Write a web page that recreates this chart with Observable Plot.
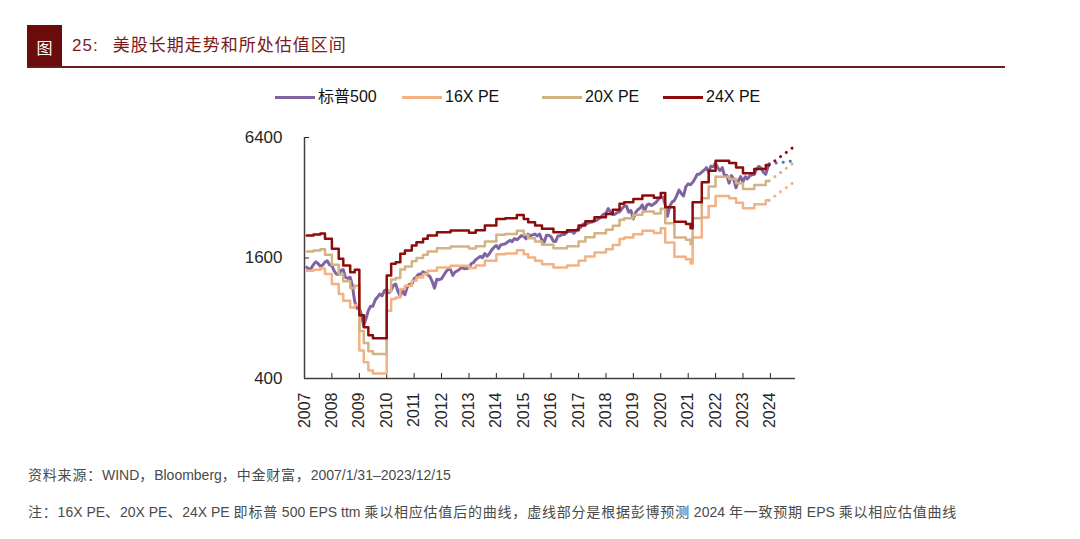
<!DOCTYPE html>
<html>
<head>
<meta charset="utf-8">
<script src="https://cdn.jsdelivr.net/npm/d3@7"></script>
<script src="https://cdn.jsdelivr.net/npm/@observablehq/plot@0.6"></script>
<style>
  body { margin: 0; background: #fff; }
  #page { position: relative; width: 1080px; height: 539px; overflow: hidden;
          font-family: "Liberation Sans", "Noto Sans CJK SC", sans-serif; }
  .abs { position: absolute; white-space: nowrap; }
  #badge { left: 27px; top: 25px; width: 35px; height: 43px; background: #6b0b0b; color: #fff;
           font-size: 16px; display: flex; align-items: center; justify-content: center;
           font-family: "Noto Sans CJK SC", sans-serif; }
  #title { left: 72px; top: 32px; font-size: 17px; line-height: 24px; color: #7a1a1a; letter-spacing: 1px; }
  #title .cn { margin-left: 14px; font-family: "Noto Sans CJK SC", sans-serif; }
  #rule { left: 27px; top: 66px; width: 978px; height: 2px; background: #6b1c1c; }
  .lg-line { height: 3px; width: 40px; top: 96px; }
  .lg-text { top: 87px; font-size: 16px; line-height: 20px; color: #111; }
  #chart { left: 0; top: 120px; }
  .foot { left: 28px; font-size: 14px; line-height: 20px; color: #4a4a4a; }
  .foot .cjk { letter-spacing: 0.8px; }
</style>
</head>
<body>
<div id="page">
  <div id="badge" class="abs">图</div>
  <div id="title" class="abs">25:<span class="cn">美股长期走势和所处估值区间</span></div>
  <div id="rule" class="abs"></div>
  <div id="legend"></div>
  <div id="chart" class="abs"></div>
  <div class="abs foot" style="top:465px">资料来源：WIND，Bloomberg，中金财富，2007/1/31–2023/12/15</div>
  <div class="abs foot" style="top:502px">注：16X PE、20X PE、24X PE 即标普 500 EPS ttm 乘以相应估值后的曲线，虚线部分是根据彭博预测 2024 年一致预期 EPS 乘以相应估值曲线</div>
</div>
<script>
// ---------------- DATA ----------------
const seriesNames = ["标普500", "16X PE", "20X PE", "24X PE"];

// S&P 500 monthly closes (Dec 2023 = 12/15)
const spxYears = [2007, 2008, 2009, 2010, 2011, 2012, 2013, 2014, 2015, 2016, 2017, 2018, 2019, 2020, 2021, 2022, 2023];
const spxMonthly = [
  [1438, 1407, 1421, 1482, 1531, 1503, 1455, 1474, 1527, 1549, 1481, 1468],
  [1379, 1331, 1323, 1386, 1400, 1280, 1267, 1283, 1166, 969, 896, 903],
  [826, 735, 798, 873, 919, 919, 987, 1021, 1057, 1036, 1096, 1115],
  [1074, 1104, 1169, 1187, 1089, 1031, 1102, 1049, 1141, 1183, 1181, 1258],
  [1286, 1327, 1326, 1364, 1345, 1321, 1292, 1219, 1131, 1253, 1247, 1258],
  [1312, 1366, 1408, 1398, 1310, 1362, 1379, 1407, 1441, 1412, 1416, 1426],
  [1498, 1515, 1569, 1598, 1631, 1606, 1686, 1633, 1682, 1757, 1806, 1848],
  [1783, 1859, 1872, 1884, 1924, 1960, 1931, 2003, 1972, 2018, 2068, 2059],
  [1995, 2105, 2068, 2086, 2107, 2063, 2104, 1972, 1920, 2079, 2080, 2044],
  [1940, 1932, 2060, 2065, 2097, 2099, 2174, 2171, 2168, 2126, 2199, 2239],
  [2279, 2364, 2363, 2384, 2412, 2423, 2470, 2472, 2519, 2575, 2648, 2674],
  [2824, 2714, 2641, 2648, 2705, 2718, 2816, 2902, 2914, 2712, 2760, 2507],
  [2704, 2784, 2834, 2946, 2752, 2942, 2980, 2926, 2977, 3038, 3141, 3231],
  [3226, 2954, 2585, 2912, 3044, 3100, 3271, 3500, 3363, 3270, 3622, 3756],
  [3714, 3811, 3973, 4181, 4204, 4298, 4395, 4523, 4308, 4605, 4567, 4766],
  [4516, 4374, 4530, 4132, 4132, 3785, 4130, 3955, 3586, 3872, 4080, 3840],
  [4077, 3970, 4109, 4169, 4180, 4450, 4589, 4508, 4288, 4194, 4568, 4719]
];

// EPS ttm x valuation, step dates (value holds from date to next date)
const peDates = [
  "2007-01-31", "2007-05-01", "2007-08-01", "2007-10-01", "2008-01-01", "2008-04-01", "2008-06-01", "2008-09-01",
  "2008-11-01", "2009-01-01", "2009-03-01", "2009-05-01", "2009-07-01", "2010-01-01", "2010-03-01", "2010-05-01",
  "2010-07-01", "2010-09-01", "2010-12-01", "2011-02-01", "2011-05-01", "2011-07-01", "2011-11-01", "2012-05-01",
  "2013-01-01", "2013-04-01", "2013-08-01", "2014-01-01", "2014-05-01", "2014-10-01", "2015-01-01", "2015-03-01",
  "2015-06-01", "2015-09-01", "2016-02-01", "2016-08-01", "2017-01-01", "2017-04-01", "2017-08-01", "2018-01-01",
  "2018-04-01", "2018-07-01", "2018-09-01", "2019-01-01", "2019-05-01", "2019-10-01", "2020-01-01", "2020-03-01",
  "2020-07-01", "2020-12-01", "2021-02-01", "2021-03-01", "2021-07-01", "2021-10-01", "2022-01-01", "2022-07-01",
  "2022-10-01", "2023-01-01", "2023-06-01", "2023-11-01", "2023-12-15"
];
const pe16 = [
  1381, 1397, 1416, 1330, 1186, 1058, 979, 906, 931, 552, 482, 438, 424, 872, 998, 1016,
  1120, 1162, 1232, 1280, 1330, 1381, 1434, 1462, 1427, 1467, 1549, 1672, 1686, 1750, 1672, 1608,
  1549, 1491, 1434, 1467, 1549, 1627, 1704, 1770, 1856, 1990, 2024, 2104, 2187, 2133, 2253, 1910,
  1621, 1579, 1500, 2024, 2547, 2912, 3264, 3181, 3021, 2832, 2966, 3107, 3107
];
const pe20 = [
  1726, 1746, 1770, 1662, 1482, 1322, 1224, 1132, 1164, 690, 602, 548, 530, 1090, 1248, 1270,
  1400, 1452, 1540, 1600, 1662, 1726, 1792, 1828, 1784, 1834, 1936, 2090, 2108, 2188, 2090, 2010,
  1936, 1864, 1792, 1834, 1936, 2034, 2130, 2212, 2320, 2488, 2530, 2630, 2734, 2666, 2816, 2388,
  2026, 1974, 1875, 2530, 3184, 3640, 4080, 3976, 3776, 3540, 3708, 3884, 3884
];
const pe24 = [
  2071, 2095, 2124, 1994, 1778, 1586, 1469, 1358, 1397, 828, 722, 658, 636, 1308, 1498, 1524,
  1680, 1742, 1848, 1920, 1994, 2071, 2150, 2194, 2141, 2201, 2323, 2508, 2530, 2626, 2508, 2412,
  2323, 2237, 2150, 2201, 2323, 2441, 2556, 2654, 2784, 2986, 3036, 3156, 3281, 3199, 3379, 2866,
  2431, 2369, 2250, 3036, 3821, 4368, 4896, 4771, 4531, 4248, 4450, 4661, 4661
];

// 2024 forecast (dotted): Bloomberg consensus EPS x valuation
const forecastDates = ["2023-12-15", "2024-11-15"];
const spxForecast = [4719, 4900];
const pe16Forecast = [3107, 3846];
const pe20Forecast = [3884, 4808];
const pe24Forecast = [4661, 5770];

const xTickYears = [2007, 2008, 2009, 2010, 2011, 2012, 2013, 2014, 2015, 2016, 2017, 2018, 2019, 2020, 2021, 2022, 2023, 2024];
const yTickValues = [400, 1600, 6400];

// ---------------- STYLE ----------------
const colors = ["#8064A2", "#F4B183", "#D3B384", "#8E0B0B"];
const forecastColors = ["#4472C4", "#F4B183", "#D3B384", "#8E0B0B"];
const legendLineX = [275, 402, 542, 663];

// ---------------- BUILD ----------------
// widen CJK runs in the footer notes
document.querySelectorAll(".foot").forEach(el => {
  const txt = el.textContent;
  el.textContent = "";
  txt.split(/([\u3000-\u303f\u4e00-\u9fff\uff00-\uffef]+)/).forEach(part => {
    if (!part) return;
    const s = document.createElement("span");
    if (/[\u3000-\u303f\u4e00-\u9fff\uff00-\uffef]/.test(part)) s.className = "cjk";
    s.textContent = part;
    el.appendChild(s);
  });
});

const spxRows = spxYears.flatMap((y, i) =>
  spxMonthly[i].map((v, m) => ({
    date: (y === 2023 && m === 11) ? new Date("2023-12-15") : new Date(Date.UTC(y, m + 1, 0)),
    value: v
  })));
const stepRows = vals => peDates.map((d, i) => ({date: new Date(d), value: vals[i]}));
const fcRows = vals => forecastDates.map((d, i) => ({date: new Date(d), value: vals[i]}));

const peSeries = [pe16, pe20, pe24];
const fcSeries = [spxForecast, pe16Forecast, pe20Forecast, pe24Forecast];

const legend = document.getElementById("legend");
seriesNames.forEach((name, i) => {
  const ln = document.createElement("div");
  ln.className = "abs lg-line";
  ln.style.left = legendLineX[i] + "px";
  ln.style.background = colors[i];
  legend.appendChild(ln);
  const tx = document.createElement("div");
  tx.className = "abs lg-text";
  tx.style.left = (legendLineX[i] + 43) + "px";
  tx.textContent = name;
  legend.appendChild(tx);
});

const x0 = new Date("2007-01-01");
const chart = Plot.plot({
  width: 1080,
  height: 318,
  marginLeft: 304,
  marginRight: 285,
  marginTop: 17,
  marginBottom: 60,
  style: {fontFamily: '"Liberation Sans", Arial, sans-serif', background: "transparent", overflow: "visible"},
  x: {type: "utc", domain: [x0, new Date("2024-12-01")]},
  y: {type: "log", base: 2, domain: [400, 6400]},
  marks: [
    Plot.axisX({
      ticks: xTickYears.map(y => new Date(Date.UTC(y, 0, 1))),
      tickFormat: d => String(d.getUTCFullYear()),
      tickSize: -5, tickPadding: 19, tickRotate: -90,
      fontSize: 16, color: "#262626", label: null
    }),
    Plot.axisY({
      ticks: yTickValues, tickFormat: d => String(d),
      tickSize: -5, tickPadding: 27, fontSize: 17, color: "#262626", label: null
    }),
    Plot.ruleY([400], {stroke: "#404040", strokeWidth: 1.5}),
    Plot.ruleX([x0], {stroke: "#404040", strokeWidth: 1.5}),
    Plot.line(spxRows, {x: "date", y: "value", stroke: colors[0], strokeWidth: 3, strokeLinejoin: "round"}),
    ...peSeries.map((vals, i) =>
      Plot.line(stepRows(vals), {x: "date", y: "value", curve: "step-after", stroke: colors[i + 1], strokeWidth: 2.5})),
    ...fcSeries.map((vals, i) =>
      Plot.line(fcRows(vals), {x: "date", y: "value", stroke: forecastColors[i], strokeWidth: 3,
        strokeDasharray: "0.1 7", strokeLinecap: "round"}))
  ]
});
document.getElementById("chart").appendChild(chart);
</script>
</body>
</html>
